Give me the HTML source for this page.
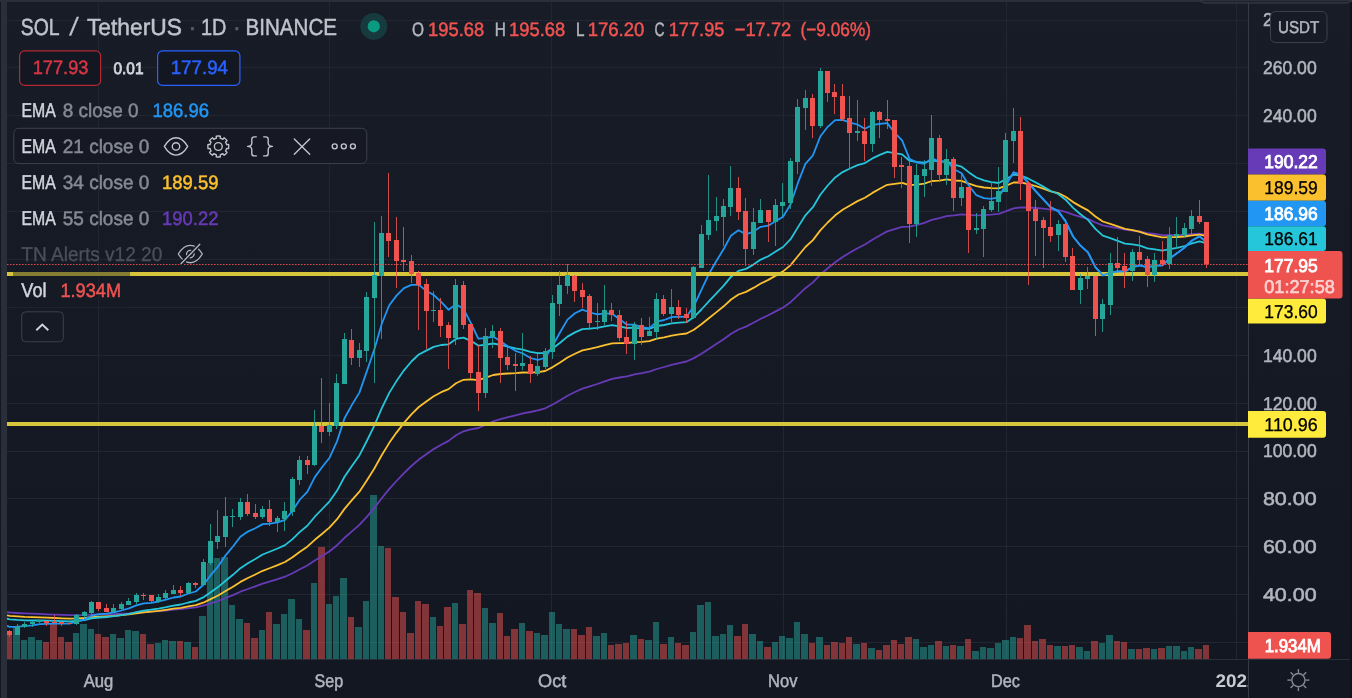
<!DOCTYPE html><html><head><meta charset="utf-8"><title>SOLUSDT chart</title>
<style>html,body{margin:0;padding:0;background:#131722;}body{width:1352px;height:698px;overflow:hidden;position:relative;}svg{position:absolute;left:0;top:0;display:block;}text{font-family:"Liberation Sans", Arial, sans-serif;}.ax{font-size:18.5px;fill:#b2b5be;stroke:#b2b5be;stroke-width:.5px;}.lg{font-size:20px;}.ln{font-size:19.4px;}</style></head><body>
<svg width="1352" height="698" viewBox="0 0 1352 698" shape-rendering="crispEdges">
<defs><linearGradient id="bg" x1="0" y1="0" x2="0" y2="1"><stop offset="0" stop-color="#181c27"/><stop offset="1" stop-color="#131722"/></linearGradient><clipPath id="pane"><rect x="7" y="2" width="1241" height="657"/></clipPath></defs>
<rect x="0" y="0" width="1352" height="698" fill="#131722"/>
<rect x="7" y="2" width="1343" height="657" fill="url(#bg)"/>
<rect x="7" y="659" width="1343" height="39" fill="#131722"/>
<g fill="#222631" fill-opacity="1">
<rect x="7" y="20" width="1241" height="1"/>
<rect x="7" y="67" width="1241" height="1"/>
<rect x="7" y="115" width="1241" height="1"/>
<rect x="7" y="163" width="1241" height="1"/>
<rect x="7" y="211" width="1241" height="1"/>
<rect x="7" y="259" width="1241" height="1"/>
<rect x="7" y="307" width="1241" height="1"/>
<rect x="7" y="355" width="1241" height="1"/>
<rect x="7" y="403" width="1241" height="1"/>
<rect x="7" y="451" width="1241" height="1"/>
<rect x="7" y="498" width="1241" height="1"/>
<rect x="7" y="546" width="1241" height="1"/>
<rect x="7" y="594" width="1241" height="1"/>
<rect x="7" y="642" width="1241" height="1"/>
<rect x="98" y="2" width="1" height="657"/>
<rect x="329" y="2" width="1" height="657"/>
<rect x="551" y="2" width="1" height="657"/>
<rect x="783" y="2" width="1" height="657"/>
<rect x="1006" y="2" width="1" height="657"/>
<rect x="1236" y="2" width="1" height="657"/>
</g>
<g clip-path="url(#pane)">
<g>
<rect x="6" y="635" width="6" height="24" fill="rgba(239,83,80,0.5)"/>
<rect x="13" y="627" width="7" height="32" fill="rgba(38,166,154,0.5)"/>
<rect x="21" y="640" width="6" height="19" fill="rgba(38,166,154,0.5)"/>
<rect x="28" y="637" width="7" height="22" fill="rgba(38,166,154,0.5)"/>
<rect x="36" y="640" width="6" height="19" fill="rgba(38,166,154,0.5)"/>
<rect x="43" y="642" width="6" height="17" fill="rgba(239,83,80,0.5)"/>
<rect x="50" y="624" width="7" height="35" fill="rgba(239,83,80,0.5)"/>
<rect x="58" y="637" width="6" height="22" fill="rgba(239,83,80,0.5)"/>
<rect x="65" y="642" width="7" height="17" fill="rgba(239,83,80,0.5)"/>
<rect x="73" y="633" width="6" height="26" fill="rgba(38,166,154,0.5)"/>
<rect x="80" y="624" width="7" height="35" fill="rgba(38,166,154,0.5)"/>
<rect x="88" y="629" width="6" height="30" fill="rgba(38,166,154,0.5)"/>
<rect x="95" y="634" width="6" height="25" fill="rgba(239,83,80,0.5)"/>
<rect x="102" y="637" width="7" height="22" fill="rgba(239,83,80,0.5)"/>
<rect x="110" y="634" width="6" height="25" fill="rgba(38,166,154,0.5)"/>
<rect x="117" y="638" width="7" height="21" fill="rgba(38,166,154,0.5)"/>
<rect x="125" y="630" width="6" height="29" fill="rgba(38,166,154,0.5)"/>
<rect x="132" y="631" width="7" height="28" fill="rgba(38,166,154,0.5)"/>
<rect x="140" y="634" width="6" height="25" fill="rgba(239,83,80,0.5)"/>
<rect x="147" y="644" width="7" height="15" fill="rgba(239,83,80,0.5)"/>
<rect x="155" y="643" width="6" height="16" fill="rgba(38,166,154,0.5)"/>
<rect x="162" y="640" width="6" height="19" fill="rgba(38,166,154,0.5)"/>
<rect x="169" y="641" width="7" height="18" fill="rgba(38,166,154,0.5)"/>
<rect x="177" y="641" width="6" height="18" fill="rgba(239,83,80,0.5)"/>
<rect x="184" y="642" width="7" height="17" fill="rgba(38,166,154,0.5)"/>
<rect x="192" y="647" width="6" height="12" fill="rgba(239,83,80,0.5)"/>
<rect x="199" y="616" width="7" height="43" fill="rgba(38,166,154,0.5)"/>
<rect x="207" y="563" width="6" height="96" fill="rgba(38,166,154,0.5)"/>
<rect x="214" y="558" width="6" height="101" fill="rgba(38,166,154,0.5)"/>
<rect x="221" y="557" width="7" height="102" fill="rgba(38,166,154,0.5)"/>
<rect x="229" y="605" width="6" height="54" fill="rgba(38,166,154,0.5)"/>
<rect x="236" y="619" width="7" height="40" fill="rgba(38,166,154,0.5)"/>
<rect x="244" y="623" width="6" height="36" fill="rgba(239,83,80,0.5)"/>
<rect x="251" y="638" width="7" height="21" fill="rgba(239,83,80,0.5)"/>
<rect x="259" y="630" width="6" height="29" fill="rgba(38,166,154,0.5)"/>
<rect x="266" y="612" width="6" height="47" fill="rgba(239,83,80,0.5)"/>
<rect x="273" y="624" width="7" height="35" fill="rgba(38,166,154,0.5)"/>
<rect x="281" y="614" width="6" height="45" fill="rgba(38,166,154,0.5)"/>
<rect x="288" y="599" width="7" height="60" fill="rgba(38,166,154,0.5)"/>
<rect x="296" y="619" width="6" height="40" fill="rgba(38,166,154,0.5)"/>
<rect x="303" y="630" width="7" height="29" fill="rgba(239,83,80,0.5)"/>
<rect x="311" y="583" width="6" height="76" fill="rgba(38,166,154,0.5)"/>
<rect x="318" y="547" width="7" height="112" fill="rgba(239,83,80,0.5)"/>
<rect x="326" y="604" width="6" height="55" fill="rgba(38,166,154,0.5)"/>
<rect x="333" y="596" width="6" height="63" fill="rgba(38,166,154,0.5)"/>
<rect x="340" y="578" width="7" height="81" fill="rgba(38,166,154,0.5)"/>
<rect x="348" y="617" width="6" height="42" fill="rgba(239,83,80,0.5)"/>
<rect x="355" y="627" width="7" height="32" fill="rgba(38,166,154,0.5)"/>
<rect x="363" y="601" width="6" height="58" fill="rgba(38,166,154,0.5)"/>
<rect x="370" y="495" width="7" height="164" fill="rgba(38,166,154,0.5)"/>
<rect x="378" y="546" width="6" height="113" fill="rgba(38,166,154,0.5)"/>
<rect x="385" y="548" width="6" height="111" fill="rgba(239,83,80,0.5)"/>
<rect x="392" y="597" width="7" height="62" fill="rgba(239,83,80,0.5)"/>
<rect x="400" y="612" width="6" height="47" fill="rgba(239,83,80,0.5)"/>
<rect x="407" y="633" width="7" height="26" fill="rgba(239,83,80,0.5)"/>
<rect x="415" y="601" width="6" height="58" fill="rgba(239,83,80,0.5)"/>
<rect x="422" y="604" width="7" height="55" fill="rgba(239,83,80,0.5)"/>
<rect x="430" y="617" width="6" height="42" fill="rgba(38,166,154,0.5)"/>
<rect x="437" y="626" width="6" height="33" fill="rgba(239,83,80,0.5)"/>
<rect x="444" y="607" width="7" height="52" fill="rgba(239,83,80,0.5)"/>
<rect x="452" y="603" width="6" height="56" fill="rgba(38,166,154,0.5)"/>
<rect x="459" y="624" width="7" height="35" fill="rgba(239,83,80,0.5)"/>
<rect x="467" y="590" width="6" height="69" fill="rgba(239,83,80,0.5)"/>
<rect x="474" y="593" width="7" height="66" fill="rgba(239,83,80,0.5)"/>
<rect x="482" y="608" width="6" height="51" fill="rgba(38,166,154,0.5)"/>
<rect x="489" y="623" width="7" height="36" fill="rgba(38,166,154,0.5)"/>
<rect x="497" y="613" width="6" height="46" fill="rgba(239,83,80,0.5)"/>
<rect x="504" y="636" width="6" height="23" fill="rgba(239,83,80,0.5)"/>
<rect x="511" y="629" width="7" height="30" fill="rgba(239,83,80,0.5)"/>
<rect x="519" y="623" width="6" height="36" fill="rgba(38,166,154,0.5)"/>
<rect x="526" y="631" width="7" height="28" fill="rgba(239,83,80,0.5)"/>
<rect x="534" y="633" width="6" height="26" fill="rgba(38,166,154,0.5)"/>
<rect x="541" y="635" width="7" height="24" fill="rgba(38,166,154,0.5)"/>
<rect x="549" y="612" width="6" height="47" fill="rgba(38,166,154,0.5)"/>
<rect x="556" y="624" width="6" height="35" fill="rgba(38,166,154,0.5)"/>
<rect x="563" y="629" width="7" height="30" fill="rgba(38,166,154,0.5)"/>
<rect x="571" y="629" width="6" height="30" fill="rgba(239,83,80,0.5)"/>
<rect x="578" y="635" width="7" height="24" fill="rgba(239,83,80,0.5)"/>
<rect x="586" y="627" width="6" height="32" fill="rgba(239,83,80,0.5)"/>
<rect x="593" y="636" width="7" height="23" fill="rgba(38,166,154,0.5)"/>
<rect x="601" y="633" width="6" height="26" fill="rgba(38,166,154,0.5)"/>
<rect x="608" y="645" width="6" height="14" fill="rgba(239,83,80,0.5)"/>
<rect x="615" y="644" width="7" height="15" fill="rgba(239,83,80,0.5)"/>
<rect x="623" y="643" width="6" height="16" fill="rgba(239,83,80,0.5)"/>
<rect x="630" y="635" width="7" height="24" fill="rgba(38,166,154,0.5)"/>
<rect x="638" y="639" width="6" height="20" fill="rgba(239,83,80,0.5)"/>
<rect x="645" y="640" width="7" height="19" fill="rgba(38,166,154,0.5)"/>
<rect x="653" y="622" width="6" height="37" fill="rgba(38,166,154,0.5)"/>
<rect x="660" y="644" width="7" height="15" fill="rgba(239,83,80,0.5)"/>
<rect x="668" y="637" width="6" height="22" fill="rgba(38,166,154,0.5)"/>
<rect x="675" y="643" width="6" height="16" fill="rgba(239,83,80,0.5)"/>
<rect x="682" y="645" width="7" height="14" fill="rgba(239,83,80,0.5)"/>
<rect x="690" y="632" width="6" height="27" fill="rgba(38,166,154,0.5)"/>
<rect x="697" y="605" width="7" height="54" fill="rgba(38,166,154,0.5)"/>
<rect x="705" y="602" width="6" height="57" fill="rgba(38,166,154,0.5)"/>
<rect x="712" y="636" width="7" height="23" fill="rgba(38,166,154,0.5)"/>
<rect x="720" y="634" width="6" height="25" fill="rgba(38,166,154,0.5)"/>
<rect x="727" y="625" width="6" height="34" fill="rgba(38,166,154,0.5)"/>
<rect x="734" y="636" width="7" height="23" fill="rgba(239,83,80,0.5)"/>
<rect x="742" y="624" width="6" height="35" fill="rgba(239,83,80,0.5)"/>
<rect x="749" y="634" width="7" height="25" fill="rgba(38,166,154,0.5)"/>
<rect x="757" y="641" width="6" height="18" fill="rgba(38,166,154,0.5)"/>
<rect x="764" y="647" width="7" height="12" fill="rgba(239,83,80,0.5)"/>
<rect x="772" y="642" width="6" height="17" fill="rgba(38,166,154,0.5)"/>
<rect x="779" y="636" width="6" height="23" fill="rgba(38,166,154,0.5)"/>
<rect x="786" y="638" width="7" height="21" fill="rgba(38,166,154,0.5)"/>
<rect x="794" y="622" width="6" height="37" fill="rgba(38,166,154,0.5)"/>
<rect x="801" y="634" width="7" height="25" fill="rgba(38,166,154,0.5)"/>
<rect x="809" y="643" width="6" height="16" fill="rgba(239,83,80,0.5)"/>
<rect x="816" y="637" width="7" height="22" fill="rgba(38,166,154,0.5)"/>
<rect x="824" y="645" width="6" height="14" fill="rgba(239,83,80,0.5)"/>
<rect x="831" y="642" width="7" height="17" fill="rgba(239,83,80,0.5)"/>
<rect x="839" y="643" width="6" height="16" fill="rgba(239,83,80,0.5)"/>
<rect x="846" y="637" width="6" height="22" fill="rgba(239,83,80,0.5)"/>
<rect x="853" y="644" width="7" height="15" fill="rgba(38,166,154,0.5)"/>
<rect x="861" y="643" width="6" height="16" fill="rgba(239,83,80,0.5)"/>
<rect x="868" y="648" width="7" height="11" fill="rgba(38,166,154,0.5)"/>
<rect x="876" y="650" width="6" height="9" fill="rgba(239,83,80,0.5)"/>
<rect x="883" y="645" width="7" height="14" fill="rgba(239,83,80,0.5)"/>
<rect x="891" y="640" width="6" height="19" fill="rgba(239,83,80,0.5)"/>
<rect x="898" y="644" width="6" height="15" fill="rgba(239,83,80,0.5)"/>
<rect x="905" y="637" width="7" height="22" fill="rgba(239,83,80,0.5)"/>
<rect x="913" y="639" width="6" height="20" fill="rgba(38,166,154,0.5)"/>
<rect x="920" y="647" width="7" height="12" fill="rgba(38,166,154,0.5)"/>
<rect x="928" y="645" width="6" height="14" fill="rgba(38,166,154,0.5)"/>
<rect x="935" y="641" width="7" height="18" fill="rgba(239,83,80,0.5)"/>
<rect x="943" y="646" width="6" height="13" fill="rgba(38,166,154,0.5)"/>
<rect x="950" y="645" width="6" height="14" fill="rgba(239,83,80,0.5)"/>
<rect x="957" y="646" width="7" height="13" fill="rgba(38,166,154,0.5)"/>
<rect x="965" y="639" width="6" height="20" fill="rgba(239,83,80,0.5)"/>
<rect x="972" y="651" width="7" height="8" fill="rgba(38,166,154,0.5)"/>
<rect x="980" y="647" width="6" height="12" fill="rgba(38,166,154,0.5)"/>
<rect x="987" y="648" width="7" height="11" fill="rgba(38,166,154,0.5)"/>
<rect x="995" y="643" width="6" height="16" fill="rgba(38,166,154,0.5)"/>
<rect x="1002" y="640" width="7" height="19" fill="rgba(38,166,154,0.5)"/>
<rect x="1010" y="637" width="6" height="22" fill="rgba(38,166,154,0.5)"/>
<rect x="1017" y="638" width="6" height="21" fill="rgba(239,83,80,0.5)"/>
<rect x="1024" y="625" width="7" height="34" fill="rgba(239,83,80,0.5)"/>
<rect x="1032" y="641" width="6" height="18" fill="rgba(239,83,80,0.5)"/>
<rect x="1039" y="639" width="7" height="20" fill="rgba(239,83,80,0.5)"/>
<rect x="1047" y="645" width="6" height="14" fill="rgba(239,83,80,0.5)"/>
<rect x="1054" y="646" width="7" height="13" fill="rgba(38,166,154,0.5)"/>
<rect x="1062" y="646" width="6" height="13" fill="rgba(239,83,80,0.5)"/>
<rect x="1069" y="645" width="6" height="14" fill="rgba(239,83,80,0.5)"/>
<rect x="1076" y="647" width="7" height="12" fill="rgba(38,166,154,0.5)"/>
<rect x="1084" y="651" width="6" height="8" fill="rgba(38,166,154,0.5)"/>
<rect x="1091" y="641" width="7" height="18" fill="rgba(239,83,80,0.5)"/>
<rect x="1099" y="643" width="6" height="16" fill="rgba(38,166,154,0.5)"/>
<rect x="1106" y="635" width="7" height="24" fill="rgba(38,166,154,0.5)"/>
<rect x="1114" y="641" width="6" height="18" fill="rgba(239,83,80,0.5)"/>
<rect x="1121" y="642" width="6" height="17" fill="rgba(239,83,80,0.5)"/>
<rect x="1128" y="649" width="7" height="10" fill="rgba(38,166,154,0.5)"/>
<rect x="1136" y="649" width="6" height="10" fill="rgba(239,83,80,0.5)"/>
<rect x="1143" y="648" width="7" height="11" fill="rgba(239,83,80,0.5)"/>
<rect x="1151" y="649" width="6" height="10" fill="rgba(38,166,154,0.5)"/>
<rect x="1158" y="648" width="7" height="11" fill="rgba(239,83,80,0.5)"/>
<rect x="1166" y="646" width="6" height="13" fill="rgba(38,166,154,0.5)"/>
<rect x="1173" y="646" width="7" height="13" fill="rgba(38,166,154,0.5)"/>
<rect x="1181" y="651" width="6" height="8" fill="rgba(38,166,154,0.5)"/>
<rect x="1188" y="647" width="6" height="12" fill="rgba(38,166,154,0.5)"/>
<rect x="1195" y="649" width="7" height="10" fill="rgba(239,83,80,0.5)"/>
<rect x="1203" y="645" width="6" height="14" fill="rgba(239,83,80,0.5)"/>
</g>
<g fill="none" stroke-width="1.8" stroke-linejoin="round" stroke-linecap="round" shape-rendering="geometricPrecision">
<polyline points="2.5,611.7 9.9,612.5 17.4,613.0 24.8,613.4 32.3,613.7 39.7,613.9 47.1,614.3 54.6,614.6 62.0,614.9 69.4,615.2 76.9,615.2 84.3,615.1 91.7,614.6 99.2,614.4 106.6,614.3 114.0,614.1 121.5,613.7 128.9,613.3 136.3,612.6 143.8,612.0 151.2,611.6 158.6,611.1 166.1,610.5 173.5,609.7 180.9,609.1 188.4,608.2 195.8,607.4 203.2,605.7 210.7,603.4 218.1,601.0 225.6,598.0 233.0,595.1 240.4,591.7 247.9,589.0 255.3,586.4 262.7,583.6 270.2,581.4 277.6,579.2 285.0,576.7 292.5,573.2 299.9,569.2 307.3,565.5 314.8,560.5 322.2,555.9 329.6,551.2 337.1,545.2 344.5,537.8 351.9,531.4 359.4,524.9 366.8,516.8 374.2,508.1 381.7,498.3 389.1,489.1 396.5,481.0 404.0,473.1 411.4,466.0 418.8,459.6 426.3,454.2 433.7,449.1 441.2,444.7 448.6,440.9 456.0,435.3 463.5,431.3 470.9,429.3 478.3,428.0 485.8,424.7 493.2,421.3 500.6,419.1 508.1,417.1 515.5,415.3 522.9,413.4 530.4,412.0 537.8,410.4 545.2,408.3 552.7,404.5 560.1,400.3 567.5,395.8 575.0,392.0 582.4,388.6 589.8,386.3 597.3,384.0 604.7,381.3 612.1,378.9 619.6,377.5 627.0,376.3 634.4,374.4 641.9,373.1 649.3,371.6 656.8,369.0 664.2,367.0 671.6,364.9 679.1,363.1 686.5,361.5 693.9,358.1 701.4,353.7 708.8,348.9 716.2,344.1 723.7,339.2 731.1,333.8 738.5,329.5 746.0,326.6 753.4,322.8 760.8,318.8 768.3,315.3 775.7,311.4 783.1,307.5 790.6,302.2 798.0,295.2 805.4,288.2 812.9,282.4 820.3,274.8 827.7,268.3 835.2,262.2 842.6,257.0 850.0,252.6 857.5,248.2 864.9,244.5 872.4,239.8 879.8,235.5 887.2,231.4 894.7,229.1 902.1,226.8 909.5,226.7 917.0,224.9 924.4,222.9 931.8,219.8 939.3,218.2 946.7,216.1 954.1,215.4 961.6,214.4 969.0,214.9 976.4,215.4 983.9,215.2 991.3,214.7 998.7,213.8 1006.2,211.2 1013.6,208.3 1021.0,207.4 1028.5,207.5 1035.9,208.0 1043.3,208.7 1050.8,209.6 1058.2,210.1 1065.6,211.8 1073.1,214.6 1080.5,216.8 1088.0,218.9 1095.4,222.5 1102.8,225.4 1110.3,226.8 1117.7,228.2 1125.1,229.7 1132.6,230.5 1140.0,231.5 1147.4,233.1 1154.9,234.0 1162.3,235.1 1169.7,235.1 1177.2,235.0 1184.6,234.8 1192.0,234.1 1199.5,233.7 1206.9,234.7" stroke="#673ab7"/>
<polyline points="2.5,614.7 9.9,615.8 17.4,616.4 24.8,616.9 32.3,617.2 39.7,617.4 47.1,617.7 54.6,618.0 62.0,618.3 69.4,618.6 76.9,618.4 84.3,618.0 91.7,617.1 99.2,616.6 106.6,616.3 114.0,615.9 121.5,615.2 128.9,614.4 136.3,613.3 143.8,612.3 151.2,611.6 158.6,610.8 166.1,609.8 173.5,608.7 180.9,607.8 188.4,606.4 195.8,605.1 203.2,602.7 210.7,599.1 218.1,595.5 225.6,591.0 233.0,586.7 240.4,581.9 247.9,578.0 255.3,574.5 262.7,570.8 270.2,568.0 277.6,565.1 285.0,562.0 292.5,557.3 299.9,551.7 307.3,546.7 314.8,539.8 322.2,533.7 329.6,527.4 337.1,519.2 344.5,508.9 351.9,500.2 359.4,491.7 366.8,480.5 374.2,468.8 381.7,455.3 389.1,443.1 396.5,432.6 404.0,422.9 411.4,414.4 418.8,407.0 426.3,401.5 433.7,396.3 441.2,392.2 448.6,389.1 456.0,383.2 463.5,379.8 470.9,379.4 478.3,380.2 485.8,377.7 493.2,375.0 500.6,374.0 508.1,373.5 515.5,373.1 522.9,372.5 530.4,372.6 537.8,372.2 545.2,371.0 552.7,367.1 560.1,362.4 567.5,357.5 575.0,353.7 582.4,350.4 589.8,348.8 597.3,347.2 604.7,345.1 612.1,343.4 619.6,343.1 627.0,343.1 634.4,342.1 641.9,341.8 649.3,341.2 656.8,338.7 664.2,337.3 671.6,335.6 679.1,334.4 686.5,333.5 693.9,329.7 701.4,324.2 708.8,318.2 716.2,312.4 723.7,306.3 731.1,299.5 738.5,294.5 746.0,291.9 753.4,287.9 760.8,283.5 768.3,279.9 775.7,275.6 783.1,271.4 790.6,265.1 798.0,256.0 805.4,247.0 812.9,240.1 820.3,230.4 827.7,222.5 835.2,215.3 842.6,209.8 850.0,205.4 857.5,201.1 864.9,197.8 872.4,192.9 879.8,188.7 887.2,184.8 894.7,183.8 902.1,182.8 909.5,185.2 917.0,184.6 924.4,183.7 931.8,181.0 939.3,180.7 946.7,179.4 954.1,180.5 961.6,180.8 969.0,183.6 976.4,186.2 983.9,187.5 991.3,188.2 998.7,188.4 1006.2,185.6 1013.6,182.5 1021.0,182.5 1028.5,184.1 1035.9,186.2 1043.3,188.6 1050.8,191.3 1058.2,193.1 1065.6,196.8 1073.1,202.1 1080.5,206.4 1088.0,210.4 1095.4,216.5 1102.8,221.5 1110.3,223.9 1117.7,226.4 1125.1,228.9 1132.6,230.2 1140.0,231.9 1147.4,234.3 1154.9,235.8 1162.3,237.4 1169.7,237.2 1177.2,237.0 1184.6,236.5 1192.0,235.3 1199.5,234.6 1206.9,236.2" stroke="#fbc02d"/>
<polyline points="2.5,617.8 9.9,619.3 17.4,619.9 24.8,620.3 32.3,620.5 39.7,620.5 47.1,620.7 54.6,620.9 62.0,621.1 69.4,621.4 76.9,620.8 84.3,620.0 91.7,618.4 99.2,617.5 106.6,617.0 114.0,616.2 121.5,615.1 128.9,613.8 136.3,612.1 143.8,610.6 151.2,609.7 158.6,608.6 166.1,607.2 173.5,605.6 180.9,604.5 188.4,602.5 195.8,600.9 203.2,597.4 210.7,592.2 218.1,587.1 225.6,580.7 233.0,574.8 240.4,568.2 247.9,563.2 255.3,559.0 262.7,554.5 270.2,551.5 277.6,548.5 285.0,545.1 292.5,539.1 299.9,531.9 307.3,525.8 314.8,516.7 322.2,509.0 329.6,501.3 337.1,490.6 344.5,476.8 351.9,466.0 359.4,455.4 366.8,441.0 374.2,425.9 381.7,408.4 389.1,393.1 396.5,381.1 404.0,370.3 411.4,361.5 418.8,354.5 426.3,350.6 433.7,346.9 441.2,345.0 448.6,344.3 456.0,338.9 463.5,337.6 470.9,340.8 478.3,345.6 485.8,344.7 493.2,343.5 500.6,344.8 508.1,346.6 515.5,348.4 522.9,349.7 530.4,351.9 537.8,353.2 545.2,353.0 552.7,348.5 560.1,342.7 567.5,336.6 575.0,332.4 582.4,329.2 589.8,328.6 597.3,327.9 604.7,326.3 612.1,325.2 619.6,326.4 627.0,328.0 634.4,327.7 641.9,328.6 649.3,328.8 656.8,326.0 664.2,325.0 671.6,323.3 679.1,322.6 686.5,322.2 693.9,317.1 701.4,309.5 708.8,301.4 716.2,293.6 723.7,285.6 731.1,276.7 738.5,270.9 746.0,268.9 753.4,264.6 760.8,259.6 768.3,256.2 775.7,251.5 783.1,247.0 790.6,239.2 798.0,227.1 805.4,215.3 812.9,207.2 820.3,194.8 827.7,185.5 835.2,177.4 842.6,172.1 850.0,168.5 857.5,165.1 864.9,163.1 872.4,158.4 879.8,154.9 887.2,151.8 894.7,153.2 902.1,154.4 909.5,160.7 917.0,162.0 924.4,162.6 931.8,160.3 939.3,161.7 946.7,161.4 954.1,164.7 961.6,166.7 969.0,172.4 976.4,177.5 983.9,180.3 991.3,182.2 998.7,183.0 1006.2,179.1 1013.6,174.7 1021.0,175.5 1028.5,178.7 1035.9,182.5 1043.3,186.6 1050.8,191.0 1058.2,194.0 1065.6,199.7 1073.1,207.9 1080.5,214.3 1088.0,219.9 1095.4,228.8 1102.8,235.7 1110.3,238.2 1117.7,240.8 1125.1,243.6 1132.6,244.3 1140.0,245.7 1147.4,248.3 1154.9,249.3 1162.3,250.7 1169.7,249.2 1177.2,247.8 1184.6,246.0 1192.0,243.3 1199.5,241.3 1206.9,243.4" stroke="#26c6da"/>
<polyline points="2.5,624.6 9.9,626.9 17.4,626.7 24.8,626.1 32.3,625.3 39.7,624.2 47.1,623.9 54.6,623.7 62.0,623.6 69.4,623.7 76.9,621.7 84.3,619.6 91.7,615.7 99.2,614.1 106.6,613.6 114.0,612.4 121.5,610.5 128.9,608.4 136.3,605.4 143.8,603.3 151.2,602.8 158.6,601.5 166.1,599.6 173.5,597.5 180.9,596.5 188.4,593.5 195.8,591.5 203.2,585.0 210.7,575.2 218.1,566.5 225.6,555.3 233.0,546.5 240.4,536.7 247.9,531.6 255.3,528.3 262.7,524.1 270.2,523.6 277.6,522.4 285.0,519.9 292.5,510.8 299.9,499.5 307.3,491.8 314.8,477.1 322.2,467.0 329.6,457.7 337.1,441.1 344.5,418.3 351.9,404.9 359.4,392.6 366.8,371.4 374.2,349.9 381.7,324.0 389.1,305.5 396.5,295.6 404.0,288.1 411.4,284.9 418.8,284.9 426.3,290.7 433.7,295.0 441.2,301.8 448.6,309.8 456.0,304.3 463.5,308.8 470.9,323.1 478.3,338.6 485.8,338.1 493.2,336.5 500.6,341.3 508.1,346.5 515.5,350.8 522.9,353.5 530.4,358.0 537.8,359.9 545.2,357.9 552.7,345.7 560.1,332.2 567.5,319.6 575.0,313.2 582.4,309.6 589.8,312.5 597.3,314.4 604.7,313.3 612.1,313.7 619.6,319.2 627.0,324.7 634.4,324.7 641.9,327.4 649.3,328.2 656.8,321.7 664.2,320.0 671.6,317.1 679.1,316.7 686.5,317.0 693.9,305.8 701.4,289.8 708.8,274.2 716.2,261.3 723.7,249.0 731.1,235.4 738.5,230.2 746.0,234.3 753.4,231.6 760.8,226.8 768.3,225.7 775.7,221.1 783.1,216.8 790.6,204.3 798.0,182.7 805.4,163.8 812.9,155.3 820.3,136.5 827.7,126.8 835.2,120.1 842.6,119.8 850.0,122.6 857.5,124.5 864.9,128.8 872.4,125.0 879.8,123.8 887.2,123.1 894.7,132.8 902.1,140.4 909.5,158.9 917.0,162.5 924.4,163.9 931.8,158.1 939.3,161.8 946.7,161.1 954.1,169.2 961.6,173.2 969.0,185.7 976.4,195.2 983.9,198.2 991.3,198.9 998.7,197.1 1006.2,184.4 1013.6,172.4 1021.0,174.9 1028.5,182.9 1035.9,191.3 1043.3,199.4 1050.8,207.4 1058.2,211.1 1065.6,221.3 1073.1,236.5 1080.5,245.7 1088.0,252.4 1095.4,267.2 1102.8,275.3 1110.3,272.6 1117.7,271.5 1125.1,271.4 1132.6,267.0 1140.0,265.4 1147.4,267.4 1154.9,265.7 1162.3,265.4 1169.7,258.5 1177.2,253.1 1184.6,247.5 1192.0,240.5 1199.5,236.4 1206.9,242.5" stroke="#2196f3"/>
</g>
<rect x="7" y="272" width="1241" height="4" fill="#d6c53a"/>
<rect x="7" y="422" width="1241" height="4" fill="#d6c53a"/>
<clipPath id="late"><rect x="1000" y="2" width="248" height="657"/></clipPath>
<g clip-path="url(#late)"><polyline points="2.5,624.6 9.9,626.9 17.4,626.7 24.8,626.1 32.3,625.3 39.7,624.2 47.1,623.9 54.6,623.7 62.0,623.6 69.4,623.7 76.9,621.7 84.3,619.6 91.7,615.7 99.2,614.1 106.6,613.6 114.0,612.4 121.5,610.5 128.9,608.4 136.3,605.4 143.8,603.3 151.2,602.8 158.6,601.5 166.1,599.6 173.5,597.5 180.9,596.5 188.4,593.5 195.8,591.5 203.2,585.0 210.7,575.2 218.1,566.5 225.6,555.3 233.0,546.5 240.4,536.7 247.9,531.6 255.3,528.3 262.7,524.1 270.2,523.6 277.6,522.4 285.0,519.9 292.5,510.8 299.9,499.5 307.3,491.8 314.8,477.1 322.2,467.0 329.6,457.7 337.1,441.1 344.5,418.3 351.9,404.9 359.4,392.6 366.8,371.4 374.2,349.9 381.7,324.0 389.1,305.5 396.5,295.6 404.0,288.1 411.4,284.9 418.8,284.9 426.3,290.7 433.7,295.0 441.2,301.8 448.6,309.8 456.0,304.3 463.5,308.8 470.9,323.1 478.3,338.6 485.8,338.1 493.2,336.5 500.6,341.3 508.1,346.5 515.5,350.8 522.9,353.5 530.4,358.0 537.8,359.9 545.2,357.9 552.7,345.7 560.1,332.2 567.5,319.6 575.0,313.2 582.4,309.6 589.8,312.5 597.3,314.4 604.7,313.3 612.1,313.7 619.6,319.2 627.0,324.7 634.4,324.7 641.9,327.4 649.3,328.2 656.8,321.7 664.2,320.0 671.6,317.1 679.1,316.7 686.5,317.0 693.9,305.8 701.4,289.8 708.8,274.2 716.2,261.3 723.7,249.0 731.1,235.4 738.5,230.2 746.0,234.3 753.4,231.6 760.8,226.8 768.3,225.7 775.7,221.1 783.1,216.8 790.6,204.3 798.0,182.7 805.4,163.8 812.9,155.3 820.3,136.5 827.7,126.8 835.2,120.1 842.6,119.8 850.0,122.6 857.5,124.5 864.9,128.8 872.4,125.0 879.8,123.8 887.2,123.1 894.7,132.8 902.1,140.4 909.5,158.9 917.0,162.5 924.4,163.9 931.8,158.1 939.3,161.8 946.7,161.1 954.1,169.2 961.6,173.2 969.0,185.7 976.4,195.2 983.9,198.2 991.3,198.9 998.7,197.1 1006.2,184.4 1013.6,172.4 1021.0,174.9 1028.5,182.9 1035.9,191.3 1043.3,199.4 1050.8,207.4 1058.2,211.1 1065.6,221.3 1073.1,236.5 1080.5,245.7 1088.0,252.4 1095.4,267.2 1102.8,275.3 1110.3,272.6 1117.7,271.5 1125.1,271.4 1132.6,267.0 1140.0,265.4 1147.4,267.4 1154.9,265.7 1162.3,265.4 1169.7,258.5 1177.2,253.1 1184.6,247.5 1192.0,240.5 1199.5,236.4 1206.9,242.5" stroke="#2196f3" fill="none" stroke-width="1.8" stroke-linejoin="round" shape-rendering="geometricPrecision"/></g>
<g>
<rect x="9" y="630" width="1" height="7" fill="#ef5350" fill-opacity="0.85"/>
<rect x="7" y="631" width="5" height="4" fill="#ef5350"/>
<rect x="17" y="624" width="1" height="11" fill="#26a69a" fill-opacity="0.85"/>
<rect x="15" y="626" width="5" height="9" fill="#26a69a"/>
<rect x="24" y="622" width="1" height="6" fill="#26a69a" fill-opacity="0.85"/>
<rect x="22" y="624" width="5" height="3" fill="#26a69a"/>
<rect x="32" y="621" width="1" height="6" fill="#26a69a" fill-opacity="0.85"/>
<rect x="30" y="622" width="5" height="2" fill="#26a69a"/>
<rect x="39" y="620" width="1" height="3" fill="#26a69a" fill-opacity="0.85"/>
<rect x="37" y="620" width="5" height="2" fill="#26a69a"/>
<rect x="46" y="621" width="1" height="5" fill="#ef5350" fill-opacity="0.85"/>
<rect x="44" y="621" width="5" height="2" fill="#ef5350"/>
<rect x="54" y="615" width="1" height="8" fill="#ef5350" fill-opacity="0.85"/>
<rect x="52" y="622" width="5" height="1" fill="#ef5350"/>
<rect x="61" y="621" width="1" height="5" fill="#ef5350" fill-opacity="0.85"/>
<rect x="59" y="622" width="5" height="2" fill="#ef5350"/>
<rect x="69" y="621" width="1" height="3" fill="#ef5350" fill-opacity="0.85"/>
<rect x="67" y="623" width="5" height="1" fill="#ef5350"/>
<rect x="76" y="614" width="1" height="11" fill="#26a69a" fill-opacity="0.85"/>
<rect x="74" y="615" width="5" height="9" fill="#26a69a"/>
<rect x="84" y="611" width="1" height="7" fill="#26a69a" fill-opacity="0.85"/>
<rect x="82" y="612" width="5" height="4" fill="#26a69a"/>
<rect x="91" y="601" width="1" height="13" fill="#26a69a" fill-opacity="0.85"/>
<rect x="89" y="602" width="5" height="11" fill="#26a69a"/>
<rect x="98" y="602" width="1" height="9" fill="#ef5350" fill-opacity="0.85"/>
<rect x="96" y="602" width="5" height="7" fill="#ef5350"/>
<rect x="106" y="604" width="1" height="8" fill="#ef5350" fill-opacity="0.85"/>
<rect x="104" y="608" width="5" height="4" fill="#ef5350"/>
<rect x="113" y="604" width="1" height="8" fill="#26a69a" fill-opacity="0.85"/>
<rect x="111" y="608" width="5" height="4" fill="#26a69a"/>
<rect x="121" y="602" width="1" height="8" fill="#26a69a" fill-opacity="0.85"/>
<rect x="119" y="604" width="5" height="5" fill="#26a69a"/>
<rect x="128" y="598" width="1" height="7" fill="#26a69a" fill-opacity="0.85"/>
<rect x="126" y="601" width="5" height="4" fill="#26a69a"/>
<rect x="136" y="593" width="1" height="11" fill="#26a69a" fill-opacity="0.85"/>
<rect x="134" y="595" width="5" height="7" fill="#26a69a"/>
<rect x="143" y="593" width="1" height="7" fill="#ef5350" fill-opacity="0.85"/>
<rect x="141" y="595" width="5" height="1" fill="#ef5350"/>
<rect x="151" y="595" width="1" height="7" fill="#ef5350" fill-opacity="0.85"/>
<rect x="149" y="595" width="5" height="6" fill="#ef5350"/>
<rect x="158" y="594" width="1" height="9" fill="#26a69a" fill-opacity="0.85"/>
<rect x="156" y="597" width="5" height="4" fill="#26a69a"/>
<rect x="165" y="590" width="1" height="9" fill="#26a69a" fill-opacity="0.85"/>
<rect x="163" y="593" width="5" height="5" fill="#26a69a"/>
<rect x="173" y="585" width="1" height="9" fill="#26a69a" fill-opacity="0.85"/>
<rect x="171" y="590" width="5" height="4" fill="#26a69a"/>
<rect x="180" y="586" width="1" height="10" fill="#ef5350" fill-opacity="0.85"/>
<rect x="178" y="590" width="5" height="3" fill="#ef5350"/>
<rect x="188" y="582" width="1" height="11" fill="#26a69a" fill-opacity="0.85"/>
<rect x="186" y="583" width="5" height="10" fill="#26a69a"/>
<rect x="195" y="582" width="1" height="6" fill="#ef5350" fill-opacity="0.85"/>
<rect x="193" y="583" width="5" height="2" fill="#ef5350"/>
<rect x="203" y="559" width="1" height="27" fill="#26a69a" fill-opacity="0.85"/>
<rect x="201" y="562" width="5" height="23" fill="#26a69a"/>
<rect x="210" y="524" width="1" height="41" fill="#26a69a" fill-opacity="0.85"/>
<rect x="208" y="541" width="5" height="22" fill="#26a69a"/>
<rect x="217" y="510" width="1" height="39" fill="#26a69a" fill-opacity="0.85"/>
<rect x="215" y="536" width="5" height="6" fill="#26a69a"/>
<rect x="225" y="497" width="1" height="50" fill="#26a69a" fill-opacity="0.85"/>
<rect x="223" y="516" width="5" height="21" fill="#26a69a"/>
<rect x="232" y="509" width="1" height="18" fill="#26a69a" fill-opacity="0.85"/>
<rect x="230" y="516" width="5" height="1" fill="#26a69a"/>
<rect x="240" y="498" width="1" height="22" fill="#26a69a" fill-opacity="0.85"/>
<rect x="238" y="502" width="5" height="15" fill="#26a69a"/>
<rect x="247" y="494" width="1" height="22" fill="#ef5350" fill-opacity="0.85"/>
<rect x="245" y="502" width="5" height="12" fill="#ef5350"/>
<rect x="255" y="504" width="1" height="15" fill="#ef5350" fill-opacity="0.85"/>
<rect x="253" y="513" width="5" height="4" fill="#ef5350"/>
<rect x="262" y="506" width="1" height="13" fill="#26a69a" fill-opacity="0.85"/>
<rect x="260" y="509" width="5" height="8" fill="#26a69a"/>
<rect x="269" y="500" width="1" height="26" fill="#ef5350" fill-opacity="0.85"/>
<rect x="267" y="509" width="5" height="13" fill="#ef5350"/>
<rect x="277" y="516" width="1" height="16" fill="#26a69a" fill-opacity="0.85"/>
<rect x="275" y="518" width="5" height="4" fill="#26a69a"/>
<rect x="284" y="502" width="1" height="29" fill="#26a69a" fill-opacity="0.85"/>
<rect x="282" y="511" width="5" height="8" fill="#26a69a"/>
<rect x="292" y="477" width="1" height="39" fill="#26a69a" fill-opacity="0.85"/>
<rect x="290" y="479" width="5" height="33" fill="#26a69a"/>
<rect x="299" y="456" width="1" height="29" fill="#26a69a" fill-opacity="0.85"/>
<rect x="297" y="460" width="5" height="20" fill="#26a69a"/>
<rect x="307" y="456" width="1" height="18" fill="#ef5350" fill-opacity="0.85"/>
<rect x="305" y="460" width="5" height="5" fill="#ef5350"/>
<rect x="314" y="410" width="1" height="56" fill="#26a69a" fill-opacity="0.85"/>
<rect x="312" y="426" width="5" height="39" fill="#26a69a"/>
<rect x="321" y="378" width="1" height="65" fill="#ef5350" fill-opacity="0.85"/>
<rect x="319" y="426" width="5" height="6" fill="#ef5350"/>
<rect x="329" y="403" width="1" height="33" fill="#26a69a" fill-opacity="0.85"/>
<rect x="327" y="425" width="5" height="7" fill="#26a69a"/>
<rect x="336" y="374" width="1" height="55" fill="#26a69a" fill-opacity="0.85"/>
<rect x="334" y="383" width="5" height="43" fill="#26a69a"/>
<rect x="344" y="333" width="1" height="51" fill="#26a69a" fill-opacity="0.85"/>
<rect x="342" y="339" width="5" height="45" fill="#26a69a"/>
<rect x="351" y="329" width="1" height="36" fill="#ef5350" fill-opacity="0.85"/>
<rect x="349" y="340" width="5" height="18" fill="#ef5350"/>
<rect x="359" y="343" width="1" height="24" fill="#26a69a" fill-opacity="0.85"/>
<rect x="357" y="350" width="5" height="8" fill="#26a69a"/>
<rect x="366" y="292" width="1" height="70" fill="#26a69a" fill-opacity="0.85"/>
<rect x="364" y="297" width="5" height="54" fill="#26a69a"/>
<rect x="374" y="222" width="1" height="161" fill="#26a69a" fill-opacity="0.85"/>
<rect x="372" y="275" width="5" height="23" fill="#26a69a"/>
<rect x="381" y="216" width="1" height="123" fill="#26a69a" fill-opacity="0.85"/>
<rect x="379" y="233" width="5" height="43" fill="#26a69a"/>
<rect x="388" y="173" width="1" height="84" fill="#ef5350" fill-opacity="0.85"/>
<rect x="386" y="233" width="5" height="8" fill="#ef5350"/>
<rect x="396" y="217" width="1" height="71" fill="#ef5350" fill-opacity="0.85"/>
<rect x="394" y="240" width="5" height="21" fill="#ef5350"/>
<rect x="403" y="227" width="1" height="44" fill="#ef5350" fill-opacity="0.85"/>
<rect x="401" y="260" width="5" height="2" fill="#ef5350"/>
<rect x="411" y="255" width="1" height="28" fill="#ef5350" fill-opacity="0.85"/>
<rect x="409" y="261" width="5" height="13" fill="#ef5350"/>
<rect x="418" y="271" width="1" height="59" fill="#ef5350" fill-opacity="0.85"/>
<rect x="416" y="273" width="5" height="12" fill="#ef5350"/>
<rect x="426" y="279" width="1" height="70" fill="#ef5350" fill-opacity="0.85"/>
<rect x="424" y="284" width="5" height="27" fill="#ef5350"/>
<rect x="433" y="291" width="1" height="31" fill="#26a69a" fill-opacity="0.85"/>
<rect x="431" y="310" width="5" height="1" fill="#26a69a"/>
<rect x="440" y="298" width="1" height="39" fill="#ef5350" fill-opacity="0.85"/>
<rect x="438" y="310" width="5" height="16" fill="#ef5350"/>
<rect x="448" y="322" width="1" height="47" fill="#ef5350" fill-opacity="0.85"/>
<rect x="446" y="325" width="5" height="13" fill="#ef5350"/>
<rect x="455" y="279" width="1" height="66" fill="#26a69a" fill-opacity="0.85"/>
<rect x="453" y="285" width="5" height="53" fill="#26a69a"/>
<rect x="463" y="281" width="1" height="48" fill="#ef5350" fill-opacity="0.85"/>
<rect x="461" y="285" width="5" height="40" fill="#ef5350"/>
<rect x="470" y="324" width="1" height="54" fill="#ef5350" fill-opacity="0.85"/>
<rect x="468" y="324" width="5" height="49" fill="#ef5350"/>
<rect x="478" y="345" width="1" height="66" fill="#ef5350" fill-opacity="0.85"/>
<rect x="476" y="372" width="5" height="21" fill="#ef5350"/>
<rect x="485" y="328" width="1" height="70" fill="#26a69a" fill-opacity="0.85"/>
<rect x="483" y="336" width="5" height="57" fill="#26a69a"/>
<rect x="492" y="325" width="1" height="23" fill="#26a69a" fill-opacity="0.85"/>
<rect x="490" y="331" width="5" height="6" fill="#26a69a"/>
<rect x="500" y="328" width="1" height="55" fill="#ef5350" fill-opacity="0.85"/>
<rect x="498" y="331" width="5" height="27" fill="#ef5350"/>
<rect x="507" y="345" width="1" height="25" fill="#ef5350" fill-opacity="0.85"/>
<rect x="505" y="357" width="5" height="8" fill="#ef5350"/>
<rect x="515" y="353" width="1" height="38" fill="#ef5350" fill-opacity="0.85"/>
<rect x="513" y="364" width="5" height="2" fill="#ef5350"/>
<rect x="522" y="333" width="1" height="37" fill="#26a69a" fill-opacity="0.85"/>
<rect x="520" y="363" width="5" height="3" fill="#26a69a"/>
<rect x="530" y="356" width="1" height="27" fill="#ef5350" fill-opacity="0.85"/>
<rect x="528" y="364" width="5" height="10" fill="#ef5350"/>
<rect x="537" y="354" width="1" height="22" fill="#26a69a" fill-opacity="0.85"/>
<rect x="535" y="366" width="5" height="8" fill="#26a69a"/>
<rect x="545" y="348" width="1" height="21" fill="#26a69a" fill-opacity="0.85"/>
<rect x="543" y="351" width="5" height="16" fill="#26a69a"/>
<rect x="552" y="295" width="1" height="64" fill="#26a69a" fill-opacity="0.85"/>
<rect x="550" y="303" width="5" height="49" fill="#26a69a"/>
<rect x="559" y="271" width="1" height="45" fill="#26a69a" fill-opacity="0.85"/>
<rect x="557" y="285" width="5" height="19" fill="#26a69a"/>
<rect x="567" y="264" width="1" height="30" fill="#26a69a" fill-opacity="0.85"/>
<rect x="565" y="275" width="5" height="11" fill="#26a69a"/>
<rect x="574" y="275" width="1" height="27" fill="#ef5350" fill-opacity="0.85"/>
<rect x="572" y="276" width="5" height="15" fill="#ef5350"/>
<rect x="582" y="283" width="1" height="25" fill="#ef5350" fill-opacity="0.85"/>
<rect x="580" y="290" width="5" height="7" fill="#ef5350"/>
<rect x="589" y="294" width="1" height="36" fill="#ef5350" fill-opacity="0.85"/>
<rect x="587" y="296" width="5" height="27" fill="#ef5350"/>
<rect x="597" y="303" width="1" height="27" fill="#26a69a" fill-opacity="0.85"/>
<rect x="595" y="321" width="5" height="1" fill="#26a69a"/>
<rect x="604" y="285" width="1" height="40" fill="#26a69a" fill-opacity="0.85"/>
<rect x="602" y="310" width="5" height="12" fill="#26a69a"/>
<rect x="611" y="303" width="1" height="18" fill="#ef5350" fill-opacity="0.85"/>
<rect x="609" y="310" width="5" height="5" fill="#ef5350"/>
<rect x="619" y="310" width="1" height="31" fill="#ef5350" fill-opacity="0.85"/>
<rect x="617" y="315" width="5" height="23" fill="#ef5350"/>
<rect x="626" y="321" width="1" height="33" fill="#ef5350" fill-opacity="0.85"/>
<rect x="624" y="337" width="5" height="7" fill="#ef5350"/>
<rect x="634" y="322" width="1" height="38" fill="#26a69a" fill-opacity="0.85"/>
<rect x="632" y="325" width="5" height="19" fill="#26a69a"/>
<rect x="641" y="318" width="1" height="27" fill="#ef5350" fill-opacity="0.85"/>
<rect x="639" y="325" width="5" height="12" fill="#ef5350"/>
<rect x="649" y="317" width="1" height="19" fill="#26a69a" fill-opacity="0.85"/>
<rect x="647" y="331" width="5" height="5" fill="#26a69a"/>
<rect x="656" y="293" width="1" height="46" fill="#26a69a" fill-opacity="0.85"/>
<rect x="654" y="299" width="5" height="33" fill="#26a69a"/>
<rect x="663" y="295" width="1" height="21" fill="#ef5350" fill-opacity="0.85"/>
<rect x="661" y="299" width="5" height="15" fill="#ef5350"/>
<rect x="671" y="289" width="1" height="33" fill="#26a69a" fill-opacity="0.85"/>
<rect x="669" y="307" width="5" height="7" fill="#26a69a"/>
<rect x="678" y="300" width="1" height="19" fill="#ef5350" fill-opacity="0.85"/>
<rect x="676" y="307" width="5" height="8" fill="#ef5350"/>
<rect x="686" y="308" width="1" height="15" fill="#ef5350" fill-opacity="0.85"/>
<rect x="684" y="314" width="5" height="4" fill="#ef5350"/>
<rect x="693" y="266" width="1" height="53" fill="#26a69a" fill-opacity="0.85"/>
<rect x="691" y="267" width="5" height="51" fill="#26a69a"/>
<rect x="701" y="225" width="1" height="43" fill="#26a69a" fill-opacity="0.85"/>
<rect x="699" y="234" width="5" height="34" fill="#26a69a"/>
<rect x="708" y="175" width="1" height="65" fill="#26a69a" fill-opacity="0.85"/>
<rect x="706" y="220" width="5" height="15" fill="#26a69a"/>
<rect x="716" y="197" width="1" height="34" fill="#26a69a" fill-opacity="0.85"/>
<rect x="714" y="216" width="5" height="5" fill="#26a69a"/>
<rect x="723" y="199" width="1" height="47" fill="#26a69a" fill-opacity="0.85"/>
<rect x="721" y="206" width="5" height="11" fill="#26a69a"/>
<rect x="730" y="166" width="1" height="50" fill="#26a69a" fill-opacity="0.85"/>
<rect x="728" y="188" width="5" height="19" fill="#26a69a"/>
<rect x="738" y="177" width="1" height="43" fill="#ef5350" fill-opacity="0.85"/>
<rect x="736" y="188" width="5" height="24" fill="#ef5350"/>
<rect x="745" y="198" width="1" height="68" fill="#ef5350" fill-opacity="0.85"/>
<rect x="743" y="211" width="5" height="38" fill="#ef5350"/>
<rect x="753" y="208" width="1" height="47" fill="#26a69a" fill-opacity="0.85"/>
<rect x="751" y="222" width="5" height="27" fill="#26a69a"/>
<rect x="760" y="199" width="1" height="24" fill="#26a69a" fill-opacity="0.85"/>
<rect x="758" y="210" width="5" height="13" fill="#26a69a"/>
<rect x="768" y="210" width="1" height="32" fill="#ef5350" fill-opacity="0.85"/>
<rect x="766" y="210" width="5" height="12" fill="#ef5350"/>
<rect x="775" y="199" width="1" height="47" fill="#26a69a" fill-opacity="0.85"/>
<rect x="773" y="205" width="5" height="17" fill="#26a69a"/>
<rect x="782" y="183" width="1" height="33" fill="#26a69a" fill-opacity="0.85"/>
<rect x="780" y="202" width="5" height="4" fill="#26a69a"/>
<rect x="790" y="158" width="1" height="51" fill="#26a69a" fill-opacity="0.85"/>
<rect x="788" y="161" width="5" height="42" fill="#26a69a"/>
<rect x="797" y="99" width="1" height="75" fill="#26a69a" fill-opacity="0.85"/>
<rect x="795" y="107" width="5" height="55" fill="#26a69a"/>
<rect x="805" y="90" width="1" height="40" fill="#26a69a" fill-opacity="0.85"/>
<rect x="803" y="98" width="5" height="10" fill="#26a69a"/>
<rect x="812" y="94" width="1" height="44" fill="#ef5350" fill-opacity="0.85"/>
<rect x="810" y="98" width="5" height="28" fill="#ef5350"/>
<rect x="820" y="68" width="1" height="60" fill="#26a69a" fill-opacity="0.85"/>
<rect x="818" y="71" width="5" height="55" fill="#26a69a"/>
<rect x="827" y="71" width="1" height="31" fill="#ef5350" fill-opacity="0.85"/>
<rect x="825" y="71" width="5" height="22" fill="#ef5350"/>
<rect x="834" y="84" width="1" height="30" fill="#ef5350" fill-opacity="0.85"/>
<rect x="832" y="92" width="5" height="5" fill="#ef5350"/>
<rect x="842" y="84" width="1" height="37" fill="#ef5350" fill-opacity="0.85"/>
<rect x="840" y="96" width="5" height="23" fill="#ef5350"/>
<rect x="849" y="96" width="1" height="73" fill="#ef5350" fill-opacity="0.85"/>
<rect x="847" y="118" width="5" height="15" fill="#ef5350"/>
<rect x="857" y="100" width="1" height="41" fill="#26a69a" fill-opacity="0.85"/>
<rect x="855" y="131" width="5" height="2" fill="#26a69a"/>
<rect x="864" y="118" width="1" height="43" fill="#ef5350" fill-opacity="0.85"/>
<rect x="862" y="131" width="5" height="13" fill="#ef5350"/>
<rect x="872" y="111" width="1" height="41" fill="#26a69a" fill-opacity="0.85"/>
<rect x="870" y="112" width="5" height="32" fill="#26a69a"/>
<rect x="879" y="111" width="1" height="27" fill="#ef5350" fill-opacity="0.85"/>
<rect x="877" y="112" width="5" height="8" fill="#ef5350"/>
<rect x="887" y="100" width="1" height="29" fill="#ef5350" fill-opacity="0.85"/>
<rect x="885" y="119" width="5" height="2" fill="#ef5350"/>
<rect x="894" y="120" width="1" height="58" fill="#ef5350" fill-opacity="0.85"/>
<rect x="892" y="120" width="5" height="47" fill="#ef5350"/>
<rect x="901" y="157" width="1" height="31" fill="#ef5350" fill-opacity="0.85"/>
<rect x="899" y="165" width="5" height="2" fill="#ef5350"/>
<rect x="909" y="157" width="1" height="86" fill="#ef5350" fill-opacity="0.85"/>
<rect x="907" y="166" width="5" height="58" fill="#ef5350"/>
<rect x="916" y="164" width="1" height="73" fill="#26a69a" fill-opacity="0.85"/>
<rect x="914" y="175" width="5" height="49" fill="#26a69a"/>
<rect x="924" y="160" width="1" height="37" fill="#26a69a" fill-opacity="0.85"/>
<rect x="922" y="169" width="5" height="7" fill="#26a69a"/>
<rect x="931" y="115" width="1" height="71" fill="#26a69a" fill-opacity="0.85"/>
<rect x="929" y="138" width="5" height="32" fill="#26a69a"/>
<rect x="939" y="135" width="1" height="47" fill="#ef5350" fill-opacity="0.85"/>
<rect x="937" y="138" width="5" height="37" fill="#ef5350"/>
<rect x="946" y="149" width="1" height="36" fill="#26a69a" fill-opacity="0.85"/>
<rect x="944" y="159" width="5" height="16" fill="#26a69a"/>
<rect x="953" y="157" width="1" height="54" fill="#ef5350" fill-opacity="0.85"/>
<rect x="951" y="159" width="5" height="39" fill="#ef5350"/>
<rect x="961" y="172" width="1" height="34" fill="#26a69a" fill-opacity="0.85"/>
<rect x="959" y="187" width="5" height="11" fill="#26a69a"/>
<rect x="968" y="187" width="1" height="66" fill="#ef5350" fill-opacity="0.85"/>
<rect x="966" y="187" width="5" height="43" fill="#ef5350"/>
<rect x="976" y="213" width="1" height="21" fill="#26a69a" fill-opacity="0.85"/>
<rect x="974" y="228" width="5" height="2" fill="#26a69a"/>
<rect x="983" y="206" width="1" height="51" fill="#26a69a" fill-opacity="0.85"/>
<rect x="981" y="209" width="5" height="20" fill="#26a69a"/>
<rect x="991" y="182" width="1" height="30" fill="#26a69a" fill-opacity="0.85"/>
<rect x="989" y="201" width="5" height="9" fill="#26a69a"/>
<rect x="998" y="167" width="1" height="45" fill="#26a69a" fill-opacity="0.85"/>
<rect x="996" y="191" width="5" height="11" fill="#26a69a"/>
<rect x="1005" y="133" width="1" height="59" fill="#26a69a" fill-opacity="0.85"/>
<rect x="1003" y="140" width="5" height="52" fill="#26a69a"/>
<rect x="1013" y="108" width="1" height="55" fill="#26a69a" fill-opacity="0.85"/>
<rect x="1011" y="131" width="5" height="10" fill="#26a69a"/>
<rect x="1020" y="117" width="1" height="83" fill="#ef5350" fill-opacity="0.85"/>
<rect x="1018" y="131" width="5" height="53" fill="#ef5350"/>
<rect x="1028" y="181" width="1" height="104" fill="#ef5350" fill-opacity="0.85"/>
<rect x="1026" y="183" width="5" height="28" fill="#ef5350"/>
<rect x="1035" y="200" width="1" height="56" fill="#ef5350" fill-opacity="0.85"/>
<rect x="1033" y="209" width="5" height="12" fill="#ef5350"/>
<rect x="1043" y="217" width="1" height="51" fill="#ef5350" fill-opacity="0.85"/>
<rect x="1041" y="220" width="5" height="8" fill="#ef5350"/>
<rect x="1050" y="201" width="1" height="41" fill="#ef5350" fill-opacity="0.85"/>
<rect x="1048" y="227" width="5" height="9" fill="#ef5350"/>
<rect x="1058" y="220" width="1" height="31" fill="#26a69a" fill-opacity="0.85"/>
<rect x="1056" y="224" width="5" height="11" fill="#26a69a"/>
<rect x="1065" y="219" width="1" height="43" fill="#ef5350" fill-opacity="0.85"/>
<rect x="1063" y="224" width="5" height="33" fill="#ef5350"/>
<rect x="1072" y="248" width="1" height="42" fill="#ef5350" fill-opacity="0.85"/>
<rect x="1070" y="256" width="5" height="34" fill="#ef5350"/>
<rect x="1080" y="274" width="1" height="30" fill="#26a69a" fill-opacity="0.85"/>
<rect x="1078" y="278" width="5" height="12" fill="#26a69a"/>
<rect x="1087" y="267" width="1" height="22" fill="#26a69a" fill-opacity="0.85"/>
<rect x="1085" y="276" width="5" height="3" fill="#26a69a"/>
<rect x="1095" y="276" width="1" height="60" fill="#ef5350" fill-opacity="0.85"/>
<rect x="1093" y="276" width="5" height="43" fill="#ef5350"/>
<rect x="1102" y="299" width="1" height="33" fill="#26a69a" fill-opacity="0.85"/>
<rect x="1100" y="304" width="5" height="15" fill="#26a69a"/>
<rect x="1110" y="253" width="1" height="62" fill="#26a69a" fill-opacity="0.85"/>
<rect x="1108" y="263" width="5" height="42" fill="#26a69a"/>
<rect x="1117" y="237" width="1" height="35" fill="#ef5350" fill-opacity="0.85"/>
<rect x="1115" y="263" width="5" height="5" fill="#ef5350"/>
<rect x="1124" y="253" width="1" height="35" fill="#ef5350" fill-opacity="0.85"/>
<rect x="1122" y="266" width="5" height="5" fill="#ef5350"/>
<rect x="1132" y="249" width="1" height="32" fill="#26a69a" fill-opacity="0.85"/>
<rect x="1130" y="252" width="5" height="19" fill="#26a69a"/>
<rect x="1139" y="236" width="1" height="28" fill="#ef5350" fill-opacity="0.85"/>
<rect x="1137" y="252" width="5" height="8" fill="#ef5350"/>
<rect x="1147" y="256" width="1" height="31" fill="#ef5350" fill-opacity="0.85"/>
<rect x="1145" y="259" width="5" height="16" fill="#ef5350"/>
<rect x="1154" y="253" width="1" height="29" fill="#26a69a" fill-opacity="0.85"/>
<rect x="1152" y="260" width="5" height="15" fill="#26a69a"/>
<rect x="1162" y="241" width="1" height="25" fill="#ef5350" fill-opacity="0.85"/>
<rect x="1160" y="260" width="5" height="4" fill="#ef5350"/>
<rect x="1169" y="227" width="1" height="42" fill="#26a69a" fill-opacity="0.85"/>
<rect x="1167" y="235" width="5" height="29" fill="#26a69a"/>
<rect x="1176" y="217" width="1" height="32" fill="#26a69a" fill-opacity="0.85"/>
<rect x="1174" y="234" width="5" height="2" fill="#26a69a"/>
<rect x="1184" y="223" width="1" height="14" fill="#26a69a" fill-opacity="0.85"/>
<rect x="1182" y="228" width="5" height="7" fill="#26a69a"/>
<rect x="1191" y="210" width="1" height="24" fill="#26a69a" fill-opacity="0.85"/>
<rect x="1189" y="216" width="5" height="13" fill="#26a69a"/>
<rect x="1199" y="200" width="1" height="24" fill="#ef5350" fill-opacity="0.85"/>
<rect x="1197" y="216" width="5" height="6" fill="#ef5350"/>
<rect x="1206" y="222" width="1" height="46" fill="#ef5350" fill-opacity="0.85"/>
<rect x="1204" y="222" width="5" height="42" fill="#ef5350"/>
</g>
<line x1="7" y1="264.5" x2="1248" y2="264.5" stroke="#ef5350" stroke-opacity="0.9" stroke-width="1" stroke-dasharray="1.6 1.4" shape-rendering="geometricPrecision"/>
</g>
<rect x="0" y="0" width="1352" height="2" fill="#2a2e39"/>
<rect x="1" y="2" width="6" height="696" fill="#2a2e39"/>
<rect x="0" y="2" width="1" height="696" fill="#131722"/>
<rect x="1350" y="2" width="2" height="696" fill="#0f121a"/>
<rect x="1248" y="2" width="1" height="696" fill="#363a45"/>
<rect x="7" y="659" width="1343" height="1" fill="#2a2e39"/>
<path d="M1201 0 V0 Q1201 3 1205 3 H1346 Q1350.5 3 1350.5 0 Z" fill="#1e222d" stroke="#3a3e49" stroke-width="1" shape-rendering="geometricPrecision"/>
</svg>
<svg width="1352" height="698" viewBox="0 0 1352 698" shape-rendering="geometricPrecision" text-rendering="geometricPrecision">
<text x="1262.9" y="601.0" class="ax" textLength="53.8" lengthAdjust="spacingAndGlyphs" >40.00</text>
<text x="1262.9" y="553.1" class="ax" textLength="53.8" lengthAdjust="spacingAndGlyphs" >60.00</text>
<text x="1262.9" y="505.3" class="ax" textLength="53.8" lengthAdjust="spacingAndGlyphs" >80.00</text>
<text x="1262.9" y="457.4" class="ax" textLength="53.8" lengthAdjust="spacingAndGlyphs" >100.00</text>
<text x="1262.9" y="409.5" class="ax" textLength="53.8" lengthAdjust="spacingAndGlyphs" >120.00</text>
<text x="1262.9" y="361.6" class="ax" textLength="53.8" lengthAdjust="spacingAndGlyphs" >140.00</text>
<text x="1262.9" y="313.7" class="ax" textLength="53.8" lengthAdjust="spacingAndGlyphs" >160.00</text>
<text x="1262.9" y="265.8" class="ax" textLength="53.8" lengthAdjust="spacingAndGlyphs" >180.00</text>
<text x="1262.9" y="217.9" class="ax" textLength="53.8" lengthAdjust="spacingAndGlyphs" >200.00</text>
<text x="1262.9" y="170.0" class="ax" textLength="53.8" lengthAdjust="spacingAndGlyphs" >220.00</text>
<text x="1262.9" y="122.1" class="ax" textLength="53.8" lengthAdjust="spacingAndGlyphs" >240.00</text>
<text x="1262.9" y="74.2" class="ax" textLength="53.8" lengthAdjust="spacingAndGlyphs" >260.00</text>
<text x="1262.9" y="26.4" class="ax" textLength="53.8" lengthAdjust="spacingAndGlyphs" >280.00</text>
<rect x="1270.5" y="11.5" width="56.5" height="31" rx="5" fill="#171b26" stroke="#3c404c" stroke-width="1"/>
<text x="1278.0" y="32.8" fill="#b2b5be" stroke="#b2b5be" stroke-width="0.5" textLength="41.3" lengthAdjust="spacingAndGlyphs" font-size="17.2">USDT</text>
<path d="M1248 148.6 H1323.0 Q1326.0 148.6 1326.0 151.6 V171.5 Q1326.0 174.5 1323.0 174.5 H1248 Z" fill="#673ab7"/>
<text x="1264.3" y="168.2" fill="#ffffff" stroke="#ffffff" stroke-width="0.85" textLength="53.4" lengthAdjust="spacingAndGlyphs" font-size="18.5">190.22</text>
<path d="M1248 174.5 H1323.0 Q1326.0 174.5 1326.0 177.5 V197.7 Q1326.0 200.7 1323.0 200.7 H1248 Z" fill="#fbc02d"/>
<text x="1264.3" y="194.2" fill="#000000" stroke="#000000" stroke-width="0.3" textLength="53.4" lengthAdjust="spacingAndGlyphs" font-size="18.5">189.59</text>
<path d="M1248 200.7 H1323.0 Q1326.0 200.7 1326.0 203.7 V223.2 Q1326.0 226.2 1323.0 226.2 H1248 Z" fill="#2196f3"/>
<text x="1264.3" y="220.0" fill="#ffffff" stroke="#ffffff" stroke-width="0.85" textLength="53.4" lengthAdjust="spacingAndGlyphs" font-size="18.5">186.96</text>
<path d="M1248 226.2 H1323.0 Q1326.0 226.2 1326.0 229.2 V247.9 Q1326.0 250.9 1323.0 250.9 H1248 Z" fill="#26c6da"/>
<text x="1264.3" y="245.2" fill="#000000" stroke="#000000" stroke-width="0.3" textLength="53.4" lengthAdjust="spacingAndGlyphs" font-size="18.5">186.61</text>
<path d="M1248 298.4 H1323.0 Q1326.0 298.4 1326.0 301.4 V320.4 Q1326.0 323.4 1323.0 323.4 H1248 Z" fill="#ffeb3b"/>
<text x="1264.3" y="317.5" fill="#000000" stroke="#000000" stroke-width="0.3" textLength="53.4" lengthAdjust="spacingAndGlyphs" font-size="18.5">173.60</text>
<path d="M1248 411.0 H1323.0 Q1326.0 411.0 1326.0 414.0 V434.7 Q1326.0 437.7 1323.0 437.7 H1248 Z" fill="#ffeb3b"/>
<text x="1264.3" y="431.0" fill="#000000" stroke="#000000" stroke-width="0.3" textLength="53.4" lengthAdjust="spacingAndGlyphs" font-size="18.5">110.96</text>
<path d="M1248 250.9 H1339.5 Q1342.5 250.9 1342.5 253.9 V295.4 Q1342.5 298.4 1339.5 298.4 H1248 Z" fill="#ef5350"/>
<text x="1264.3" y="271.5" fill="#ffffff" stroke="#ffffff" stroke-width="0.85" textLength="53.4" lengthAdjust="spacingAndGlyphs" font-size="18.5">177.95</text>
<text x="1264.3" y="292.6" fill="#fbd3d2" stroke="#fbd3d2" stroke-width="0.6" textLength="70.5" lengthAdjust="spacingAndGlyphs" font-size="18.5">01:27:58</text>
<path d="M1248 632.0 H1328.0 Q1331.0 632.0 1331.0 635.0 V655.8 Q1331.0 658.8 1328.0 658.8 H1248 Z" fill="#ef5350"/>
<text x="1264.7" y="651.9" fill="#ffffff" stroke="#ffffff" stroke-width="0.85" textLength="56.2" lengthAdjust="spacingAndGlyphs" font-size="18.5">1.934M</text>
<text x="83.7" y="687.3" fill="#b2b5be" stroke="#b2b5be" stroke-width="0.5" textLength="29.6" lengthAdjust="spacingAndGlyphs" font-size="18.3">Aug</text>
<text x="314.5" y="687.3" fill="#b2b5be" stroke="#b2b5be" stroke-width="0.5" textLength="28.7" lengthAdjust="spacingAndGlyphs" font-size="18.3">Sep</text>
<text x="538.1" y="687.3" fill="#b2b5be" stroke="#b2b5be" stroke-width="0.5" textLength="28.2" lengthAdjust="spacingAndGlyphs" font-size="18.3">Oct</text>
<text x="768.0" y="687.3" fill="#b2b5be" stroke="#b2b5be" stroke-width="0.5" textLength="29.4" lengthAdjust="spacingAndGlyphs" font-size="18.3">Nov</text>
<text x="990.9" y="687.3" fill="#b2b5be" stroke="#b2b5be" stroke-width="0.5" textLength="29.0" lengthAdjust="spacingAndGlyphs" font-size="18.3">Dec</text>
<clipPath id="tclip"><rect x="7" y="660" width="1241" height="38"/></clipPath>
<text x="1215.6" y="687.2" fill="#c7cad2" font-size="18.3" font-weight="bold" clip-path="url(#tclip)" textLength="42" lengthAdjust="spacingAndGlyphs">2022</text>
<g stroke="#868993" stroke-width="1.4" fill="none"><circle cx="1298.4" cy="680.1" r="6.6"/>
<line x1="1305.6" y1="680.1" x2="1309.4" y2="680.1"/>
<line x1="1303.5" y1="685.2" x2="1306.2" y2="687.9"/>
<line x1="1298.4" y1="687.3" x2="1298.4" y2="691.1"/>
<line x1="1293.3" y1="685.2" x2="1290.6" y2="687.9"/>
<line x1="1291.2" y1="680.1" x2="1287.4" y2="680.1"/>
<line x1="1293.3" y1="675.0" x2="1290.6" y2="672.3"/>
<line x1="1298.4" y1="672.9" x2="1298.4" y2="669.1"/>
<line x1="1303.5" y1="675.0" x2="1306.2" y2="672.3"/>
</g>
<rect x="13" y="271.5" width="117" height="36" fill="#161a25" fill-opacity="0.42"/>
<text x="20.8" y="34.7" fill="#bfc2cb" stroke="#bfc2cb" stroke-width="0.5" textLength="38.8" lengthAdjust="spacingAndGlyphs" font-size="23.4">SOL</text>
<text x="69.2" y="34.7" fill="#bfc2cb" stroke="#bfc2cb" stroke-width="0.3" font-size="25" transform="translate(69.2 34.7) skewX(-8) translate(-69.2 -34.7)">/</text>
<text x="86.9" y="34.7" fill="#bfc2cb" stroke="#bfc2cb" stroke-width="0.5" textLength="95.0" lengthAdjust="spacingAndGlyphs" font-size="23.4">TetherUS</text>
<text x="188.5" y="34.7" fill="#5d606b" stroke="#5d606b" stroke-width="0.5" font-size="23.4">·</text>
<text x="201.0" y="34.7" fill="#bfc2cb" stroke="#bfc2cb" stroke-width="0.5" textLength="25.5" lengthAdjust="spacingAndGlyphs" font-size="23.4">1D</text>
<text x="233.0" y="34.7" fill="#5d606b" stroke="#5d606b" stroke-width="0.5" font-size="23.4">·</text>
<text x="245.5" y="34.7" fill="#bfc2cb" stroke="#bfc2cb" stroke-width="0.5" textLength="91.5" lengthAdjust="spacingAndGlyphs" font-size="23.4">BINANCE</text>
<circle cx="373.8" cy="26.3" r="13.4" fill="#173a3e"/><circle cx="373.8" cy="26.3" r="6.1" fill="#0a9b82"/>
<text x="412.0" y="35.8" class="ln" fill="#b2b5be" stroke="#b2b5be" stroke-width="0.5" textLength="12.0" lengthAdjust="spacingAndGlyphs" >O</text>
<text x="428.1" y="35.8" class="ln" fill="#ef5350" stroke="#ef5350" stroke-width="0.5" textLength="56.0" lengthAdjust="spacingAndGlyphs" >195.68</text>
<text x="494.7" y="35.8" class="ln" fill="#b2b5be" stroke="#b2b5be" stroke-width="0.5" textLength="11.1" lengthAdjust="spacingAndGlyphs" >H</text>
<text x="509.1" y="35.8" class="ln" fill="#ef5350" stroke="#ef5350" stroke-width="0.5" textLength="56.0" lengthAdjust="spacingAndGlyphs" >195.68</text>
<text x="576.0" y="35.8" class="ln" fill="#b2b5be" stroke="#b2b5be" stroke-width="0.5" textLength="8.5" lengthAdjust="spacingAndGlyphs" >L</text>
<text x="587.7" y="35.8" class="ln" fill="#ef5350" stroke="#ef5350" stroke-width="0.5" textLength="56.7" lengthAdjust="spacingAndGlyphs" >176.20</text>
<text x="654.4" y="35.8" class="ln" fill="#b2b5be" stroke="#b2b5be" stroke-width="0.5" textLength="10.0" lengthAdjust="spacingAndGlyphs" >C</text>
<text x="668.7" y="35.8" class="ln" fill="#ef5350" stroke="#ef5350" stroke-width="0.5" textLength="55.8" lengthAdjust="spacingAndGlyphs" >177.95</text>
<text x="734.7" y="35.8" class="ln" fill="#ef5350" stroke="#ef5350" stroke-width="0.5" textLength="56.6" lengthAdjust="spacingAndGlyphs" >−17.72</text>
<text x="800.5" y="35.8" class="ln" fill="#ef5350" stroke="#ef5350" stroke-width="0.5" textLength="70.6" lengthAdjust="spacingAndGlyphs" >(−9.06%)</text>
<rect x="19.6" y="50.9" width="81" height="34.5" rx="5" fill="#131722" stroke="#b22833" stroke-width="1.2"/>
<text x="32.7" y="74.4" class="ln" fill="#d83544" stroke="#d83544" stroke-width="0.5" textLength="55.8" lengthAdjust="spacingAndGlyphs" >177.93</text>
<text x="113.5" y="74.0" fill="#d1d4dc" stroke="#d1d4dc" stroke-width="0.8" textLength="30.0" lengthAdjust="spacingAndGlyphs" font-size="16.6">0.01</text>
<rect x="157.6" y="50.9" width="82.3" height="34.5" rx="5" fill="#131722" stroke="#2962ff" stroke-width="1.2"/>
<text x="170.7" y="74.4" class="ln" fill="#2962ff" stroke="#2962ff" stroke-width="0.5" textLength="57.3" lengthAdjust="spacingAndGlyphs" >177.94</text>
<rect x="13.8" y="128.3" width="353" height="35.3" rx="5" fill="#161a25" fill-opacity="0.9" stroke="#3c404c" stroke-width="1"/>
<text x="21.5" y="116.8" class="lg" fill="#d1d4dc" stroke="#d1d4dc" stroke-width="0.5" textLength="34.3" lengthAdjust="spacingAndGlyphs" >EMA</text>
<text x="62.8" y="116.8" class="ln" fill="#868993" stroke="#868993" stroke-width="0.5" textLength="75.8" lengthAdjust="spacingAndGlyphs" >8 close 0</text>
<text x="152.6" y="116.8" class="ln" fill="#2196f3" stroke="#2196f3" stroke-width="0.5" textLength="56.4" lengthAdjust="spacingAndGlyphs" >186.96</text>
<text x="21.5" y="152.8" class="lg" fill="#d1d4dc" stroke="#d1d4dc" stroke-width="0.5" textLength="34.3" lengthAdjust="spacingAndGlyphs" >EMA</text>
<text x="62.8" y="152.8" class="ln" fill="#868993" stroke="#868993" stroke-width="0.5" textLength="86.5" lengthAdjust="spacingAndGlyphs" >21 close 0</text>
<text x="21.5" y="188.8" class="lg" fill="#d1d4dc" stroke="#d1d4dc" stroke-width="0.5" textLength="34.3" lengthAdjust="spacingAndGlyphs" >EMA</text>
<text x="62.8" y="188.8" class="ln" fill="#868993" stroke="#868993" stroke-width="0.5" textLength="86.5" lengthAdjust="spacingAndGlyphs" >34 close 0</text>
<text x="162.1" y="188.8" class="ln" fill="#fbc02d" stroke="#fbc02d" stroke-width="0.5" textLength="56.4" lengthAdjust="spacingAndGlyphs" >189.59</text>
<text x="21.5" y="224.7" class="lg" fill="#d1d4dc" stroke="#d1d4dc" stroke-width="0.5" textLength="34.3" lengthAdjust="spacingAndGlyphs" >EMA</text>
<text x="62.8" y="224.7" class="ln" fill="#868993" stroke="#868993" stroke-width="0.5" textLength="86.5" lengthAdjust="spacingAndGlyphs" >55 close 0</text>
<text x="162.1" y="224.7" class="ln" fill="#673ab7" stroke="#673ab7" stroke-width="0.5" textLength="56.4" lengthAdjust="spacingAndGlyphs" >190.22</text>
<text x="21.3" y="260.5" class="lg" fill="#4c4f5a" stroke="#4c4f5a" stroke-width="0.3" textLength="141.0" lengthAdjust="spacingAndGlyphs" >TN Alerts v12 20</text>
<text x="21.3" y="296.7" class="lg" fill="#d1d4dc" stroke="#d1d4dc" stroke-width="0.5" textLength="25.2" lengthAdjust="spacingAndGlyphs" >Vol</text>
<text x="60.4" y="296.7" class="ln" fill="#ef5350" stroke="#ef5350" stroke-width="0.5" textLength="60.7" lengthAdjust="spacingAndGlyphs" >1.934M</text>
<rect x="21.7" y="311.8" width="41.6" height="30" rx="4" fill="#161a25" fill-opacity="0.6" stroke="#3c404c" stroke-width="1"/>
<path d="M36.3 330.3 L42.3 324.6 L48.3 330.3" fill="none" stroke="#d1d4dc" stroke-width="1.9"/>
<g fill="none" stroke="#c3c6ce" stroke-width="1.35" stroke-linecap="round" stroke-linejoin="round">
<path d="M164.3 146.4 C168 140.2 172 137.7 176 137.7 C180 137.7 184 140.2 187.7 146.4 C184 152.6 180 155.1 176 155.1 C172 155.1 168 152.6 164.3 146.4 Z"/><circle cx="176" cy="146.4" r="3.7"/>
<path d="M216.21 136.21 A10.5 10.5 0 0 1 220.39 136.21 L220.18 138.21 A8.5 8.5 0 0 1 222.83 139.31 L224.10 137.75 A10.5 10.5 0 0 1 227.05 140.70 L225.49 141.97 A8.5 8.5 0 0 1 226.59 144.62 L228.59 144.41 A10.5 10.5 0 0 1 228.59 148.59 L226.59 148.38 A8.5 8.5 0 0 1 225.49 151.03 L227.05 152.30 A10.5 10.5 0 0 1 224.10 155.25 L222.83 153.69 A8.5 8.5 0 0 1 220.18 154.79 L220.39 156.79 A10.5 10.5 0 0 1 216.21 156.79 L216.42 154.79 A8.5 8.5 0 0 1 213.77 153.69 L212.50 155.25 A10.5 10.5 0 0 1 209.55 152.30 L211.11 151.03 A8.5 8.5 0 0 1 210.01 148.38 L208.01 148.59 A10.5 10.5 0 0 1 208.01 144.41 L210.01 144.62 A8.5 8.5 0 0 1 211.11 141.97 L209.55 140.70 A10.5 10.5 0 0 1 212.50 137.75 L213.77 139.31 A8.5 8.5 0 0 1 216.42 138.21 Z"/><circle cx="218.3" cy="146.5" r="3.9"/>
<path d="M256.3 136.8 H254.3 Q251.8 136.8 251.8 139.3 V143 Q251.8 146.4 247.6 146.4 Q251.8 146.4 251.8 149.8 V153.4 Q251.8 155.9 254.3 155.9 H256.3"/>
<path d="M263.7 136.8 H265.7 Q268.2 136.8 268.2 139.3 V143 Q268.2 146.4 272.4 146.4 Q268.2 146.4 268.2 149.8 V153.4 Q268.2 155.9 265.7 155.9 H263.7"/>
<path d="M294.3 138.9 L309.7 154.2 M309.7 138.9 L294.3 154.2"/>
<circle cx="334.7" cy="146.3" r="2.5"/>
<circle cx="343.8" cy="146.3" r="2.5"/>
<circle cx="352.9" cy="146.3" r="2.5"/>
</g>
<g fill="none" stroke="#b2b5be" stroke-width="1.35" stroke-linecap="round" stroke-linejoin="round">
<path d="M178.3 254 C182 247.8 186 245.3 190.3 245.3 C194.6 245.3 198.6 247.8 202.3 254 C198.6 260.2 194.6 262.7 190.3 262.7 C186 262.7 182 260.2 178.3 254 Z"/><circle cx="190.3" cy="254" r="3.7"/>
<path d="M181.5 263.5 L199.5 244.5" stroke="#161a25" stroke-width="4"/><path d="M181 263.8 L199.8 244.3"/>
</g>
</svg></body></html>
